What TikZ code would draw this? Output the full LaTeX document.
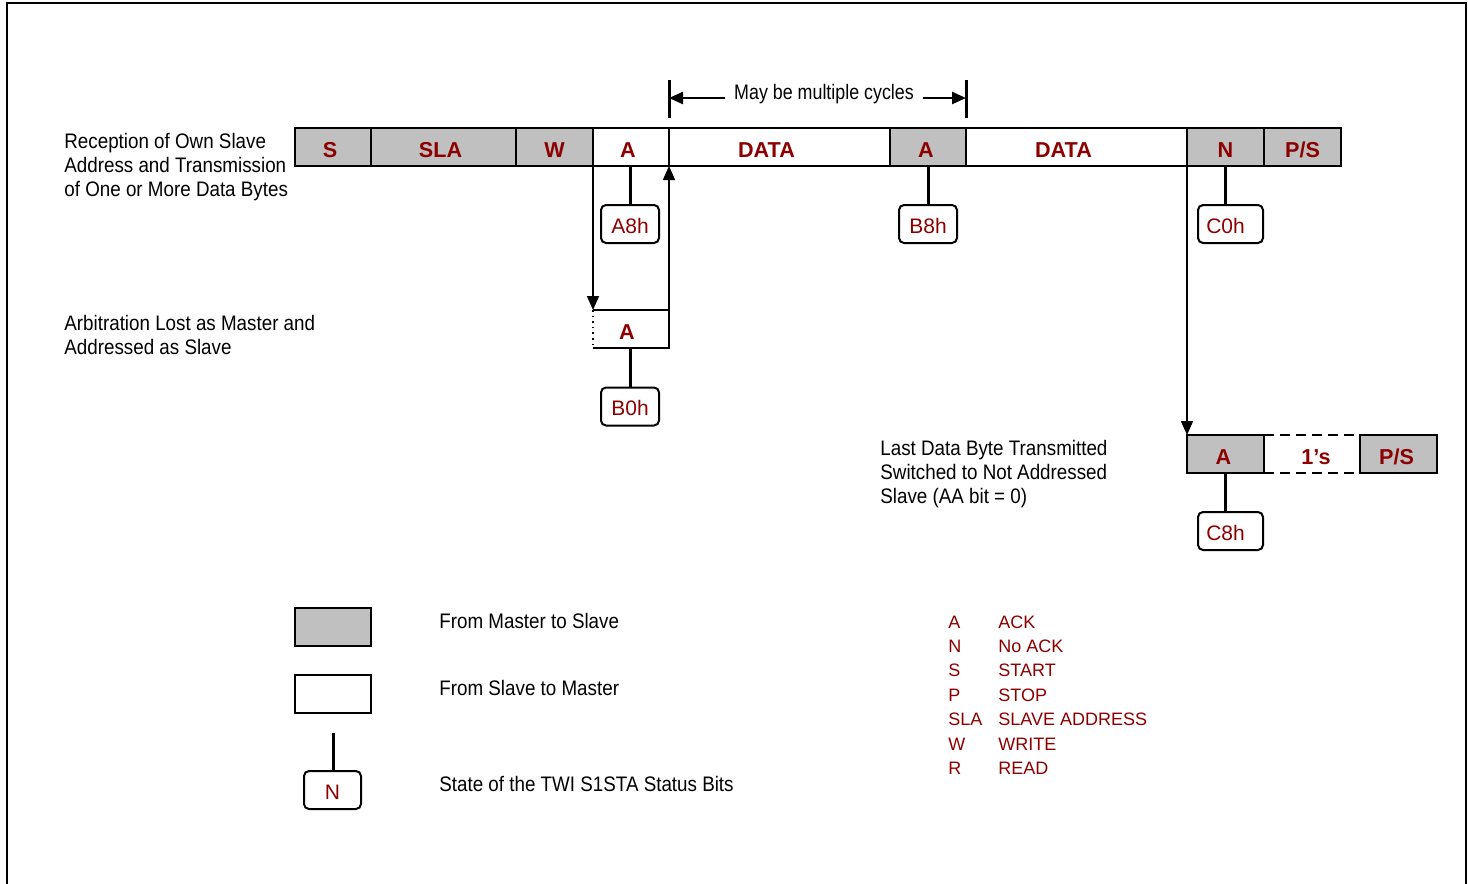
\documentclass[tikz,border=0pt]{standalone}
\usepackage{fontspec}
\setmainfont{Liberation Sans}
\newfontfamily\narrowfont[FakeStretch=0.895]{Liberation Sans}
\newfontfamily\cycfont[FakeStretch=0.85]{Liberation Sans}
\usetikzlibrary{arrows.meta}
\definecolor{dred}{RGB}{140,0,0}
\definecolor{cellgray}{RGB}{192,192,192}
\tikzset{
  celltext/.style={font=\fontsize{10.8pt}{12pt}\selectfont\bfseries, text=dred, text height=10pt, text depth=0pt},
  cellbase/.style={draw, line width=1.2pt, minimum height=19pt, inner sep=0pt, outer sep=0pt, celltext},
  gcell/.style={cellbase, fill=cellgray},
  wcell/.style={cellbase, fill=white},
  status/.style={draw, line width=1pt, rounded corners=2.5pt, minimum width=29pt, minimum height=19pt,
    inner sep=0pt, outer sep=0pt, font=\fontsize{10.5pt}{12pt}\selectfont, text=dred, text height=9pt, text depth=0pt},
  stem/.style={line width=1.5pt},
  arr/.style={line width=0.8pt, -{Triangle[length=7pt,width=6pt]}},
  lbl/.style={font=\narrowfont\fontsize{10.5pt}{12pt}\selectfont, align=left, anchor=north west, inner sep=0pt},
  abbr/.style={font=\fontsize{9pt}{12pt}\selectfont, text=dred, anchor=base west, inner sep=0pt},
}
\begin{document}
\begin{tikzpicture}[x=0.5pt,y=-0.5pt]
\useasboundingbox (0,0) rectangle (1468,884);
% frame
\draw[line width=1pt] (7,884) -- (7,3) -- (1466,3) -- (1466,884);

% top row
\node[gcell, minimum width=38pt]   (s)   at (333,147)    {\hspace*{-3pt}S};
\node[gcell, minimum width=72.5pt] (sla) at (443.5,147)  {\hspace*{-3pt}SLA};
\node[gcell, minimum width=38.5pt] (w)   at (554.5,147)  {W};
\node[wcell, minimum width=38pt]   (a1)  at (631,147)    {\hspace*{-3pt}A};
\node[wcell, minimum width=110.5pt](d1)  at (779.5,147)  {\hspace*{-13pt}DATA};
\node[gcell, minimum width=38pt]   (a2)  at (928,147)    {\hspace*{-2pt}A};
\node[wcell, minimum width=110.5pt](d2)  at (1076.5,147) {\hspace*{-13pt}DATA};
\node[gcell, minimum width=38.5pt] (n)   at (1225.5,147) {N};
\node[gcell, minimum width=38.5pt] (ps)  at (1302.5,147) {P/S};

% status boxes
\node[status] (a8h) at (630,224) {A8h};
\node[status] (b8h) at (928,224) {B8h};
\node[status, minimum width=32.5pt] (c0h) at (1230.5,224) {\hspace*{-5pt}C0h};
\draw[stem] (a1.south -| a8h.north) -- (a8h.north);
\draw[stem] (b8h.north |- a2.south) -- (b8h.north);
\draw[stem] (n.south) -- (n.south |- c0h.north);

% dimension
\coordinate (t1a) at (669,80);  \coordinate (t1b) at (669,118);
\coordinate (t2a) at (966,80);  \coordinate (t2b) at (966,118);
\draw[line width=1.5pt] (t1a) -- (t1b);
\draw[line width=1.5pt] (t2a) -- (t2b);
\node[font=\cycfont\fontsize{10.5pt}{12pt}\selectfont, inner sep=4.5pt] (cyc) at (824,94) {May be multiple cycles};
\draw[line width=1.2pt, -{Triangle[length=7pt,width=6pt]}] (cyc.west |- 0,98) -- (669,98);
\draw[line width=1.2pt, -{Triangle[length=7pt,width=6pt]}] (cyc.east |- 0,98) -- (966,98);

% arbitration lost A
\node[minimum width=38pt, minimum height=19pt, inner sep=0pt, outer sep=0pt, celltext] (am) at (631,329) {\hspace*{-4pt}A};
\draw[line width=1.2pt] (am.north west) -- (am.north east) -- (am.south east) -- (am.south west);
\draw[line width=0.8pt, dotted] (am.north west) -- (am.south west);
\draw[arr] (a1.south west) -- (am.north west);
\draw[arr] (am.north east) -- (a1.south east);
\node[status] (b0h) at (630,406.5) {B0h};
\draw[stem] (am.south -| b0h.north) -- (b0h.north);

% not addressed slave
\node[gcell, minimum width=38.5pt] (a3)  at (1225.5,454) {\hspace*{-2pt}A};
\node[gcell, minimum width=38.5pt] (ps2) at (1398.5,454) {\hspace*{-2pt}P/S};
\draw[line width=1.2pt, dashed, dash pattern=on 5pt off 3pt] (a3.north east) -- (ps2.north west);
\draw[line width=1.2pt, dashed, dash pattern=on 5pt off 3pt] (a3.south east) -- (ps2.south west);
\node[celltext, inner sep=0pt] (ones) at (1316,454) {1’s};
\draw[arr] (n.south west) -- (a3.north west);
\node[status, minimum width=32.5pt] (c8h) at (1230.5,531) {\hspace*{-5pt}C8h};
\draw[stem] (a3.south) -- (a3.south |- c8h.north);

% labels
\node[lbl] (l1) at (64,133) {Reception of Own Slave\\Address and Transmission\\of One or More Data Bytes};
\node[lbl] (l2) at (64,315) {Arbitration Lost as Master and\\Addressed as Slave};
\node[lbl] (l3) at (880,440) {Last Data Byte Transmitted\\Switched to Not Addressed\\Slave (AA bit = 0)};

% legend
\node[draw, line width=1.2pt, fill=cellgray, minimum width=38pt, minimum height=19pt, inner sep=0pt] (lg1) at (333,627) {};
\node[draw, line width=1.2pt, fill=white, minimum width=38pt, minimum height=19pt, inner sep=0pt] (lg2) at (333,694) {};
\node[status, minimum width=28.5pt] (lg3) at (332.5,790) {N};
\coordinate (lg3top) at (333,733);
\draw[stem] (lg3top) -- (lg3.north -| lg3top);
\node[lbl] (t1) at (439,613) {From Master to Slave};
\node[lbl] (t2) at (439,680) {From Slave to Master};
\node[lbl] (t3) at (439,776) {State of the TWI S1STA Status Bits};

% abbreviations
\node[abbr] (ka) at (948,628) {A};   \node[abbr] (va) at (998,628) {ACK};
\node[abbr] (kn) at (948,652) {N};   \node[abbr] (vn) at (998,652) {No ACK};
\node[abbr] (ks) at (948,676) {S};   \node[abbr] (vs) at (998,676) {START};
\node[abbr] (kp) at (948,701) {P};   \node[abbr] (vp) at (998,701) {STOP};
\node[abbr] (ksla) at (948,725) {SLA}; \node[abbr] (vsla) at (998,725) {SLAVE ADDRESS};
\node[abbr] (kw) at (948,750) {W};   \node[abbr] (vw) at (998,750) {WRITE};
\node[abbr] (kr) at (948,774) {R};   \node[abbr] (vr) at (998,774) {READ};
\end{tikzpicture}
\end{document}
